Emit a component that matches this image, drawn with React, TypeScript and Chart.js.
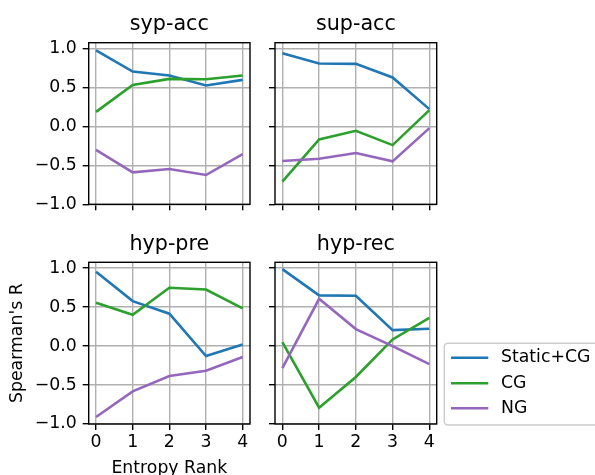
import React, { useEffect, useRef } from 'react';
import { Chart, registerables } from 'chart.js';

Chart.register(...registerables);

const FONT = "'DejaVu Sans', 'Liberation Sans', sans-serif";

const ranks = [0, 1, 2, 3, 4];
const seriesNames = ['Static+CG', 'CG', 'NG'];
const seriesColors = ['#1f77b4', '#2ca02c', '#9467bd'];
const yTickValues = [-1.0, -0.5, 0.0, 0.5, 1.0];

const sypAccStatic = [0.978, 0.705, 0.654, 0.526, 0.598];
const sypAccCG = [0.187, 0.533, 0.61, 0.606, 0.654];
const sypAccNG = [-0.3, -0.59, -0.547, -0.624, -0.355];

const supAccStatic = [0.94, 0.807, 0.803, 0.628, 0.222];
const supAccCG = [-0.71, -0.167, -0.056, -0.24, 0.209];
const supAccNG = [-0.445, -0.415, -0.342, -0.449, -0.022];

const hypPreStatic = [0.953, 0.577, 0.415, -0.128, 0.021];
const hypPreCG = [0.556, 0.402, 0.748, 0.726, 0.483];
const hypPreNG = [-0.91, -0.581, -0.385, -0.316, -0.141];

const hypRecStatic = [0.987, 0.65, 0.645, 0.205, 0.222];
const hypRecCG = [0.051, -0.79, -0.397, 0.085, 0.363];
const hypRecNG = [-0.282, 0.607, 0.218, 0.0, -0.231];

type PanelCfg = {
  title: string;
  series: number[][];
  left: number;
  top: number;
  w: number;
  h: number;
  yw: number;
  xh: number;
  padR: number;
  titlePadTop: number;
  showXTicks: boolean;
  showYTicks: boolean;
  xTitle?: string;
  yTitle?: string;
  legend?: boolean;
};

const panels: PanelCfg[] = [
  { title: 'syp-acc', series: [sypAccStatic, sypAccCG, sypAccNG], left: 0, top: 0, w: 260, h: 230, yw: 88.7, xh: 25.7, padR: 10, titlePadTop: 12.36, showXTicks: false, showYTicks: true },
  { title: 'sup-acc', series: [supAccStatic, supAccCG, supAccNG], left: 260, top: 0, w: 190, h: 230, yw: 15, xh: 25.7, padR: 13.3, titlePadTop: 12.36, showXTicks: false, showYTicks: false },
  { title: 'hyp-pre', series: [hypPreStatic, hypPreCG, hypPreNG], left: 0, top: 230, w: 260, h: 250, yw: 88.7, xh: 56, padR: 10, titlePadTop: 1.96, showXTicks: true, showYTicks: true, xTitle: 'Entropy Rank', yTitle: "Spearman's R" },
  { title: 'hyp-rec', series: [hypRecStatic, hypRecCG, hypRecNG], left: 260, top: 230, w: 345, h: 250, yw: 15, xh: 56, padR: 168.3, titlePadTop: 1.96, showXTicks: true, showYTicks: false, legend: true },
];

const framePlugin = {
  id: 'frame',
  afterDatasetsDraw(chart: any) {
    const { ctx, chartArea: a } = chart;
    ctx.save();
    ctx.strokeStyle = '#000';
    ctx.lineWidth = 1.4;
    ctx.strokeRect(a.left, a.top, a.right - a.left, a.bottom - a.top);
    ctx.restore();
  },
};

const legendBoxPlugin = {
  id: 'sideLegend',
  afterDraw(chart: any, _args: any, opts: any) {
    if (!opts || !opts.enabled) return;
    const ctx = chart.ctx;
    const x0 = 184.3, y0 = 113.3, x1 = 360, y1 = 195, r = 3.5;
    ctx.save();
    ctx.beginPath();
    ctx.moveTo(x0 + r, y0);
    ctx.lineTo(x1 - r, y0);
    ctx.arcTo(x1, y0, x1, y0 + r, r);
    ctx.lineTo(x1, y1 - r);
    ctx.arcTo(x1, y1, x1 - r, y1, r);
    ctx.lineTo(x0 + r, y1);
    ctx.arcTo(x0, y1, x0, y1 - r, r);
    ctx.lineTo(x0, y0 + r);
    ctx.arcTo(x0, y0, x0 + r, y0, r);
    ctx.closePath();
    ctx.fillStyle = 'rgba(255,255,255,0.8)';
    ctx.fill();
    ctx.strokeStyle = '#cccccc';
    ctx.lineWidth = 1.4;
    ctx.stroke();
    const rows = [127.7, 153.2, 178.3];
    ctx.font = `17.3px ${FONT}`;
    ctx.textBaseline = 'middle';
    ctx.textAlign = 'left';
    seriesNames.forEach((name, i) => {
      ctx.strokeStyle = seriesColors[i];
      ctx.lineWidth = 2.6;
      ctx.beginPath();
      ctx.moveTo(191, rows[i]);
      ctx.lineTo(228.3, rows[i]);
      ctx.stroke();
      ctx.fillStyle = '#000';
      ctx.fillText(name, 241, rows[i]);
    });
    ctx.restore();
  },
};

const fmtY = (v: number) => v.toFixed(1).replace('-', '\u2212');

function Panel({ cfg }: { cfg: PanelCfg }) {
  const ref = useRef<HTMLCanvasElement>(null);
  useEffect(() => {
    if (!ref.current) return;
    const gridCommon = {
      color: '#b0b0b0',
      lineWidth: 1.4,
      drawTicks: true,
      tickLength: 6,
      tickColor: '#000',
      tickWidth: 1.4,
    };
    const chart = new Chart(ref.current, {
      type: 'line',
      data: {
        datasets: cfg.series.map((vals, i) => ({
          label: seriesNames[i],
          data: ranks.map((r, j) => ({ x: r, y: vals[j] })),
          borderColor: seriesColors[i],
          backgroundColor: seriesColors[i],
          borderWidth: 2.6,
          pointRadius: 0,
          tension: 0,
          fill: false,
          order: 3 - i,
        })),
      },
      options: {
        animation: false,
        responsive: false,
        devicePixelRatio: 1,
        layout: { padding: { left: 0, top: 0, right: cfg.padR, bottom: 0 } },
        plugins: {
          legend: { display: false },
          tooltip: { enabled: false },
          title: {
            display: true,
            text: cfg.title,
            fullSize: false,
            color: '#000',
            font: { family: FONT, size: 20.7, weight: 'normal', lineHeight: 1.2 },
            padding: { top: cfg.titlePadTop, bottom: 5.5 },
          },
          sideLegend: { enabled: !!cfg.legend },
        } as any,
        scales: {
          x: {
            type: 'linear',
            min: -0.2,
            max: 4.2,
            bounds: 'data',
            afterBuildTicks: (s: any) => {
              s.ticks = ranks.map((v) => ({ value: v }));
            },
            afterFit: (s: any) => {
              s.height = cfg.xh;
            },
            ticks: {
              display: cfg.showXTicks,
              padding: 2,
              color: '#000',
              font: { family: FONT, size: 17.3 },
              maxRotation: 0,
              autoSkip: false,
              callback: (v: any) => String(v),
            },
            grid: gridCommon,
            border: { display: false },
            title: cfg.xTitle
              ? { display: true, text: cfg.xTitle, color: '#000', font: { family: FONT, size: 17.3 }, padding: { top: 0, bottom: 1.2 } }
              : { display: false },
          },
          y: {
            type: 'linear',
            min: -1.0,
            max: 1.075,
            bounds: 'data',
            afterBuildTicks: (s: any) => {
              s.ticks = yTickValues.map((v) => ({ value: v }));
            },
            afterFit: (s: any) => {
              s.width = cfg.yw;
            },
            ticks: {
              display: cfg.showYTicks,
              padding: 6,
              color: '#000',
              font: { family: FONT, size: 17.3 },
              autoSkip: false,
              callback: (v: any) => fmtY(Number(v)),
            },
            grid: gridCommon,
            border: { display: false },
            title: cfg.yTitle
              ? { display: true, text: cfg.yTitle, color: '#000', font: { family: FONT, size: 17.3 }, padding: { top: 6.8, bottom: 0 } }
              : { display: false },
          },
        } as any,
      },
      plugins: [framePlugin, legendBoxPlugin],
    } as any);
    return () => chart.destroy();
  }, [cfg]);
  return (
    <canvas
      ref={ref}
      width={cfg.w}
      height={cfg.h}
      style={{ position: 'absolute', left: cfg.left, top: cfg.top, width: cfg.w, height: cfg.h, display: 'block' }}
    />
  );
}

export default function App() {
  return (
    <div
      style={{
        position: 'absolute',
        left: 0,
        top: 0,
        width: 595,
        height: 475,
        overflow: 'hidden',
        background: '#fff',
      }}
    >
      {panels.map((p) => (
        <Panel key={p.title} cfg={p} />
      ))}
    </div>
  );
}
